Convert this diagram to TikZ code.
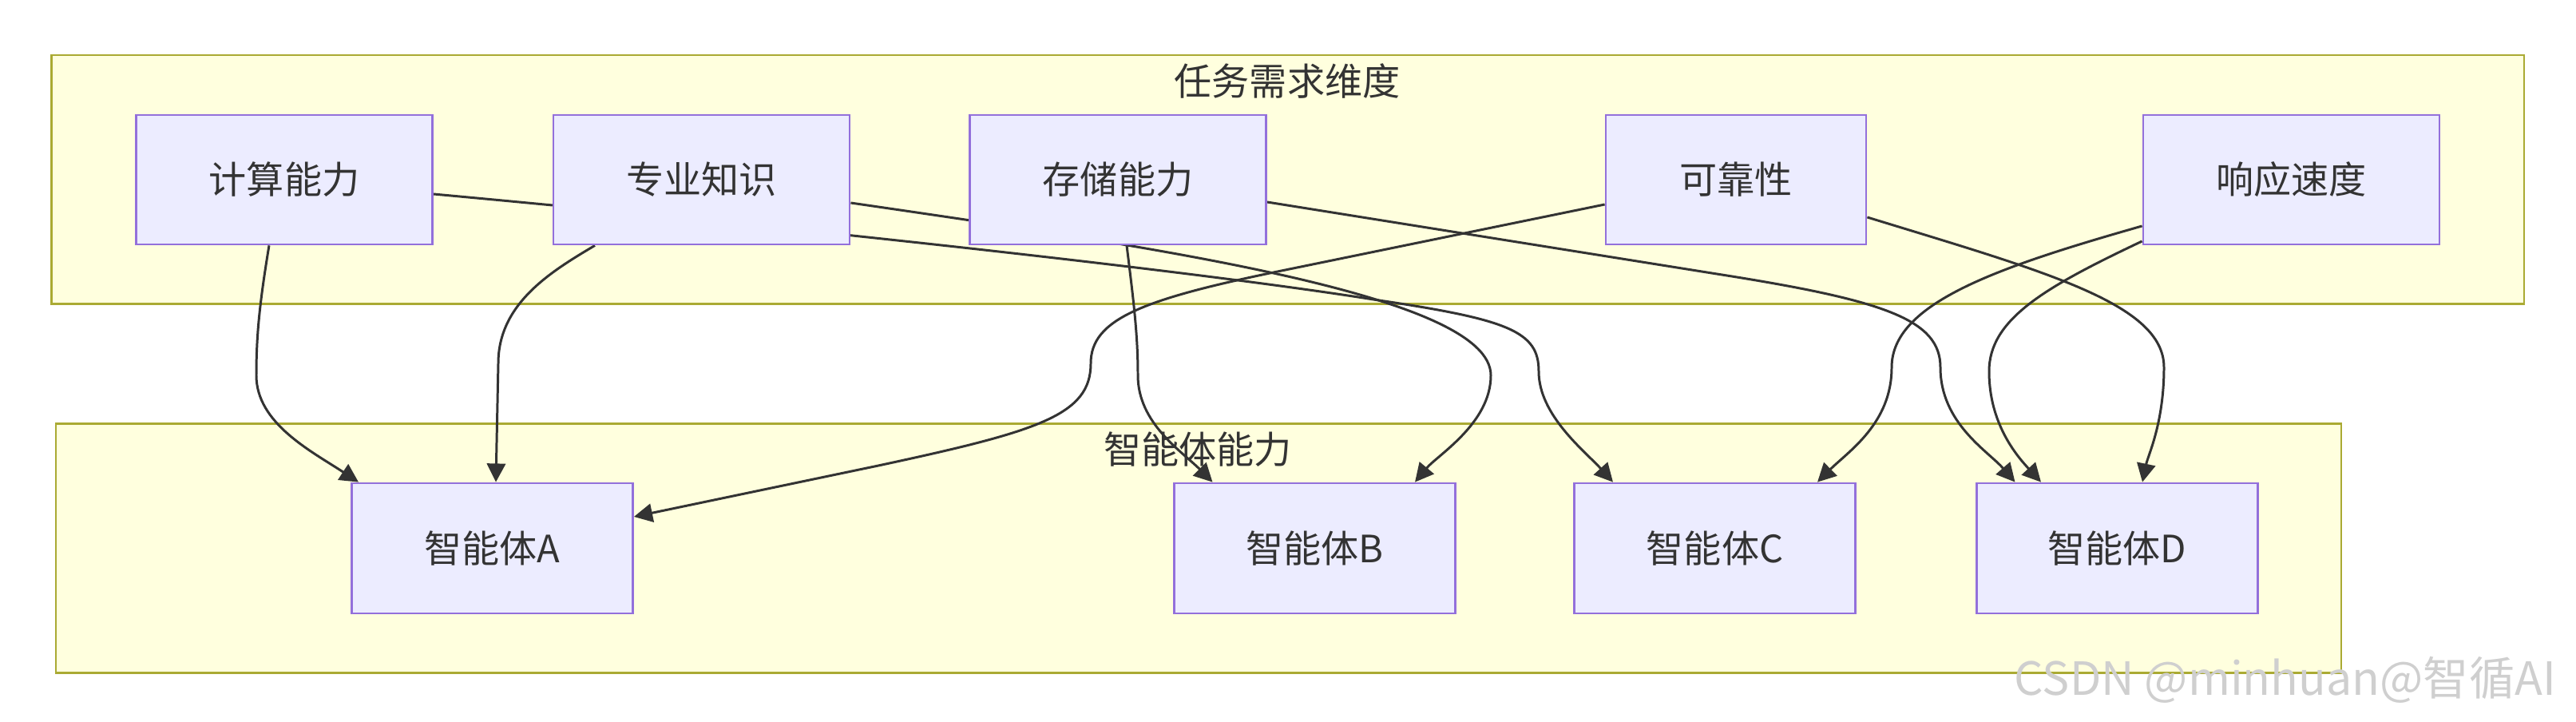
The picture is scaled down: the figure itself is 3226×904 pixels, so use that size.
\documentclass[tikz,border=0pt]{standalone}
\usepackage{fontspec}
\setmainfont{Noto Sans CJK SC}
\usetikzlibrary{arrows.meta,calc}
\definecolor{clfill}{HTML}{FFFFDE}
\definecolor{cldraw}{HTML}{AAAA33}
\definecolor{ndfill}{HTML}{ECECFF}
\definecolor{nddraw}{HTML}{9370DB}
\definecolor{ink}{HTML}{333333}
\definecolor{wm}{HTML}{CFCFCF}
\pgfdeclarelayer{bg}
\pgfdeclarelayer{edgelayer}
\pgfsetlayers{bg,edgelayer,main}
\begin{document}
\begin{tikzpicture}[x=0.01cm,y=-0.01cm,
  cluster/.style={draw=cldraw,fill=clfill,line width=0.75pt},
  lbl/.style={text=ink,font=\fontsize{13.4}{16}\selectfont,inner sep=0pt},
  box/.style={draw=nddraw,fill=ndfill,line width=0.75pt,rectangle,inner sep=0pt,
    minimum height=1.62cm,text=ink,font=\fontsize{13.4}{16}\selectfont},
  wide/.style={box,minimum width=3.71cm},
  narrow/.style={box,minimum width=3.26cm},
  agent/.style={box,minimum width=3.52cm,minimum height=1.63cm},
  link/.style={draw=ink,line width=0.85pt,-{Triangle[length=6.6pt,width=6.6pt]}}]
\useasboundingbox (0,0) rectangle (3226,904);
\begin{pgfonlayer}{bg}
  \fill[white] (0,0) rectangle (3226,904);
  \draw[cluster] (64.5,69) rectangle (3161,380.7);
  \draw[cluster] (70,530.7) rectangle (2932,842.7);
  \node[lbl] (t1) at (1612,102) {任务需求维度};
  \node[lbl] (t2) at (1500,563) {智能体能力};
\end{pgfonlayer}
% top nodes
\node[wide] (jisuan) at (356,225) {计算能力};
\node[wide] (zhuanye) at (878.5,225) {专业知识};
\node[wide] (cunchu) at (1400,225) {存储能力};
\node[narrow] (kekao) at (2174,225) {可靠性};
\node[wide] (xiangying) at (2869.5,225) {响应速度};
% bottom nodes
\node[agent] (agA) at (616.5,686.5) {智能体A};
\node[agent] (agB) at (1646.5,686.5) {智能体B};
\node[agent] (agC) at (2147.5,686.5) {智能体C};
\node[agent] (agD) at (2651.5,686.5) {智能体D};
\begin{pgfonlayer}{edgelayer}
\draw[link] ($(jisuan.south)+(-19,0)$) .. controls (325,380) and (321,420) .. (321,470)
   .. controls (321,530) and (390,565) .. ($(agA.north)+(-167.5,0)$);
\draw[link] ($(zhuanye.south)+(-133.5,0)$) .. controls (690,340) and (624,380) .. (624,455)
   -- ($(agA.north)+(4.5,0)$);
\draw[link] ($(kekao.west)+(0,31)$) -- (1600,340) .. controls (1430,375) and (1366,400) .. (1366,455)
   .. controls (1366,520) and (1300,540) .. (1100,583) -- ($(agA.east)+(0,-39.5)$);
\draw[link] ($(jisuan.east)+(0,18)$) .. controls (1000,285) and (1500,340) .. (1720,375)
   .. controls (1890,400) and (1927,415) .. (1927,465)
   .. controls (1927,520) and (1985,565) .. ($(agC.north)+(-127.5,0)$);
\draw[link] ($(zhuanye.east)+(0,29)$) .. controls (1450,310) and (1867,370) .. (1867,470)
   .. controls (1867,530) and (1800,570) .. ($(agB.north)+(125.5,0)$);
\draw[link] ($(cunchu.south)+(11,0)$) .. controls (1420,380) and (1425,420) .. (1425,470)
   .. controls (1425,530) and (1480,565) .. ($(agB.north)+(-128,0)$);
\draw[link] ($(cunchu.east)+(0,28)$) -- (2150,343) .. controls (2360,376) and (2430,400) .. (2430,460)
   .. controls (2430,530) and (2490,565) .. ($(agD.north)+(-128,0)$);
\draw[link] ($(kekao.east)+(0,47)$) .. controls (2560,340) and (2710,380) .. (2710,460)
   .. controls (2710,530) and (2690,570) .. ($(agD.north)+(31.5,0)$);
\draw[link] ($(xiangying.west)+(0,58)$) .. controls (2500,335) and (2369,380) .. (2369,460)
   .. controls (2369,530) and (2315,565) .. ($(agC.north)+(128.5,0)$);
\draw[link] ($(xiangying.west)+(0,77)$) .. controls (2560,360) and (2491,400) .. (2491,465)
   .. controls (2491,530) and (2525,570) .. ($(agD.north)+(-95.5,0)$);
\end{pgfonlayer}
\node[text=wm,font=\fontsize{16.3}{19}\selectfont,inner sep=0pt] (wmark) at (2862,851) {CSDN @minhuan@智循AI};
\end{tikzpicture}
\end{document}
